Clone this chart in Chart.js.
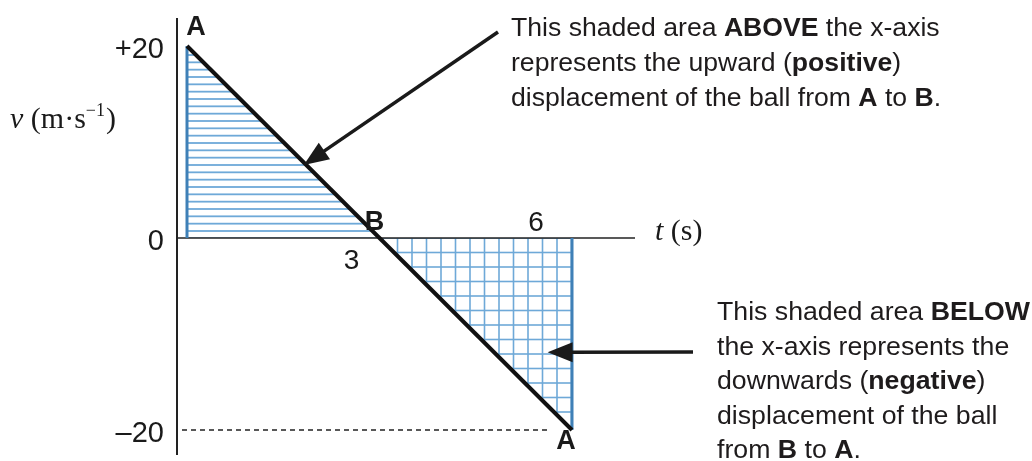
<!DOCTYPE html>
<html>
<head>
<meta charset="utf-8">
<script src="https://cdn.jsdelivr.net/npm/chart.js@4.4.0/dist/chart.umd.min.js"></script>
<style>
  html, body { margin: 0; padding: 0; background: #fff; }
  #wrap { width: 1032px; height: 461px; position: relative; }
</style>
</head>
<body>
<div id="wrap"><canvas id="vtChart"></canvas></div>
<script>
// velocity of the ball against time
var times = [0, 3, 6];
var velocities = [20, 0, -20];
var pointNames = ['A', 'B', 'A'];
var yTickValues = [20, 0, -20];
var yTickLabels = ['+20', '0', '\u201320'];
var xTickValues = [3, 6];
var xTickLabels = ['3', '6'];

var upperNote = [
    [['This shaded area ', false], ['ABOVE', true], [' the x-axis', false]],
    [['represents the upward (', false], ['positive', true], [')', false]],
    [['displacement of the ball from ', false], ['A', true], [' to ', false], ['B', true], ['.', false]]
];
var lowerNote = [
    [['This shaded area ', false], ['BELOW', true]],
    [['the x-axis represents the', false]],
    [['downwards (', false], ['negative', true], [')', false]],
    [['displacement of the ball', false]],
    [['from ', false], ['B', true], [' to ', false], ['A', true], ['.', false]]
];

var SANS = '"Liberation Sans", Arial, sans-serif';
var SERIF = '"Liberation Serif", "Times New Roman", serif';
var HATCH = '#6ea9d8';
var EDGE = '#3f80b7';

// striped pattern for the area above the axis
function makeStripes() {
    var c = document.createElement('canvas');
    c.width = 8; c.height = 22;
    var g = c.getContext('2d');
    g.strokeStyle = HATCH;
    g.lineWidth = 1.8;
    [3.67, 11, 18.33].forEach(function(y) {
        g.beginPath(); g.moveTo(0, y); g.lineTo(8, y); g.stroke();
    });
    return g.createPattern(c, 'repeat');
}

// square grid pattern for the area below the axis
function makeGrid() {
    var c = document.createElement('canvas');
    c.width = 29; c.height = 29;
    var g = c.getContext('2d');
    g.strokeStyle = HATCH;
    g.lineWidth = 1.6;
    [6, 20.5].forEach(function(p) {
        g.beginPath(); g.moveTo(0, p); g.lineTo(29, p); g.stroke();
        g.beginPath(); g.moveTo(p, 0); g.lineTo(p, 29); g.stroke();
    });
    return g.createPattern(c, 'repeat');
}

function drawRich(ctx, lines, x, y, size, gap) {
    lines.forEach(function(parts, i) {
        var cx = x;
        parts.forEach(function(p) {
            ctx.font = (p[1] ? 'bold ' : '') + size + 'px ' + SANS;
            ctx.fillText(p[0], cx, y + i * gap);
            cx += ctx.measureText(p[0]).width;
        });
    });
}

function drawArrow(ctx, x1, y1, x2, y2) {
    var ang = Math.atan2(y2 - y1, x2 - x1);
    var len = 25, half = 10;
    var bx = x2 - len * Math.cos(ang), by = y2 - len * Math.sin(ang);
    ctx.save();
    ctx.strokeStyle = '#1a1a1a';
    ctx.fillStyle = '#1a1a1a';
    ctx.lineWidth = 3.5;
    ctx.beginPath(); ctx.moveTo(x1, y1); ctx.lineTo(bx + 4 * Math.cos(ang), by + 4 * Math.sin(ang)); ctx.stroke();
    ctx.beginPath();
    ctx.moveTo(x2, y2);
    ctx.lineTo(bx + half * Math.sin(ang), by - half * Math.cos(ang));
    ctx.lineTo(bx - half * Math.sin(ang), by + half * Math.cos(ang));
    ctx.closePath();
    ctx.fill();
    ctx.restore();
}

var decorations = {
    id: 'decorations',
    beforeDatasetsDraw: function(chart) {
        var ctx = chart.ctx, xs = chart.scales.x, ys = chart.scales.y;
        var axisX = xs.getPixelForValue(times[0]) - 10;
        var zeroY = ys.getPixelForValue(0);
        ctx.save();
        ctx.strokeStyle = '#222';
        ctx.lineWidth = 2;
        ctx.beginPath(); ctx.moveTo(axisX, chart.chartArea.top - 28); ctx.lineTo(axisX, chart.chartArea.bottom + 25); ctx.stroke();
        ctx.lineWidth = 1.5;
        ctx.beginPath(); ctx.moveTo(axisX, zeroY); ctx.lineTo(635, zeroY); ctx.stroke();
        // dashed guide at the lowest velocity
        var lowY = ys.getPixelForValue(Math.min.apply(null, velocities));
        ctx.setLineDash([5, 4]);
        ctx.lineWidth = 1.5;
        ctx.beginPath(); ctx.moveTo(axisX + 5, lowY); ctx.lineTo(xs.getPixelForValue(times[times.length - 1]) - 24, lowY); ctx.stroke();
        ctx.restore();
    },
    afterDraw: function(chart) {
        var ctx = chart.ctx, xs = chart.scales.x, ys = chart.scales.y;
        var axisX = xs.getPixelForValue(times[0]) - 10;
        ctx.save();
        ctx.fillStyle = '#1a1a1a';
        ctx.textBaseline = 'middle';

        // y tick labels
        ctx.font = '29px ' + SANS;
        ctx.textAlign = 'right';
        yTickValues.forEach(function(v, i) {
            ctx.fillText(yTickLabels[i], axisX - 13, ys.getPixelForValue(v) + 4);
        });

        // x tick labels
        ctx.font = '28px ' + SANS;
        ctx.textAlign = 'center';
        ctx.fillText(xTickLabels[0], xs.getPixelForValue(xTickValues[0]) - 28, ys.getPixelForValue(0) + 23);
        ctx.fillText(xTickLabels[1], xs.getPixelForValue(xTickValues[1]) - 36, ys.getPixelForValue(0) - 15);

        // point names
        ctx.font = 'bold 27px ' + SANS;
        ctx.fillText(pointNames[0], xs.getPixelForValue(times[0]) + 9, ys.getPixelForValue(velocities[0]) - 18);
        ctx.fillText(pointNames[1], xs.getPixelForValue(times[1]) - 5, ys.getPixelForValue(velocities[1]) - 15);
        ctx.fillText(pointNames[2], xs.getPixelForValue(times[2]) - 6, ys.getPixelForValue(velocities[2]) + 12);

        // axis titles
        ctx.textAlign = 'left';
        ctx.font = 'italic 30px ' + SERIF;
        ctx.fillText('t', 655, ys.getPixelForValue(0) - 6);
        var tw = ctx.measureText('t').width;
        ctx.font = '30px ' + SERIF;
        ctx.fillText(' (s)', 655 + tw, ys.getPixelForValue(0) - 6);

        var vx = 10, vy = 120;
        ctx.font = 'italic 30px ' + SERIF;
        ctx.fillText('\u03bd', vx, vy);
        vx += ctx.measureText('\u03bd').width;
        ctx.font = '30px ' + SERIF;
        ctx.fillText(' (m\u00b7s', vx, vy);
        vx += ctx.measureText(' (m\u00b7s').width;
        ctx.font = '18px ' + SERIF;
        ctx.fillText('\u22121', vx, vy - 9);
        vx += ctx.measureText('\u22121').width + 1;
        ctx.font = '30px ' + SERIF;
        ctx.fillText(')', vx, vy);

        // notes
        ctx.fillStyle = '#1e1b1c';
        drawRich(ctx, upperNote, 511, 29, 26.6, 35);
        drawRich(ctx, lowerNote, 717, 313, 26.7, 34.5);

        // arrows pointing into the areas
        drawArrow(ctx, 498, 32, xs.getPixelForValue(1.82), ys.getPixelForValue(7.6));
        drawArrow(ctx, 693, 352, xs.getPixelForValue(5.62), ys.getPixelForValue(-11.9));
        ctx.restore();
    }
};

var lineData = times.map(function(t, i) { return { x: t, y: velocities[i] }; });
var last = times.length - 1;

var ctx = document.getElementById('vtChart').getContext('2d');
var vtChart = new Chart(ctx, {
    type: 'scatter',
    data: {
        datasets: [{
            label: 'velocity',
            data: lineData,
            showLine: true,
            borderColor: '#111',
            borderWidth: 4,
            pointRadius: 0,
            clip: false,
            fill: { target: 'origin', above: makeStripes(), below: makeGrid() }
        }, {
            label: 'start edge',
            data: [{ x: times[0], y: 0 }, { x: times[0], y: velocities[0] }],
            showLine: true,
            borderColor: EDGE,
            borderWidth: 3,
            pointRadius: 0,
            clip: false
        }, {
            label: 'end edge',
            data: [{ x: times[last], y: 0 }, { x: times[last], y: velocities[last] }],
            showLine: true,
            borderColor: EDGE,
            borderWidth: 3,
            pointRadius: 0,
            clip: false
        }]
    },
    options: {
        responsive: true,
        maintainAspectRatio: false,
        animation: false,
        layout: { padding: { left: 187, right: 460, top: 46, bottom: 31 } },
        scales: {
            x: { type: 'linear', min: 0, max: 6, display: false },
            y: { type: 'linear', min: -20, max: 20, display: false }
        },
        plugins: {
            legend: { display: false },
            tooltip: { enabled: false },
            filler: { drawTime: 'beforeDatasetsDraw' }
        }
    },
    plugins: [decorations]
});
</script>
</body>
</html>
